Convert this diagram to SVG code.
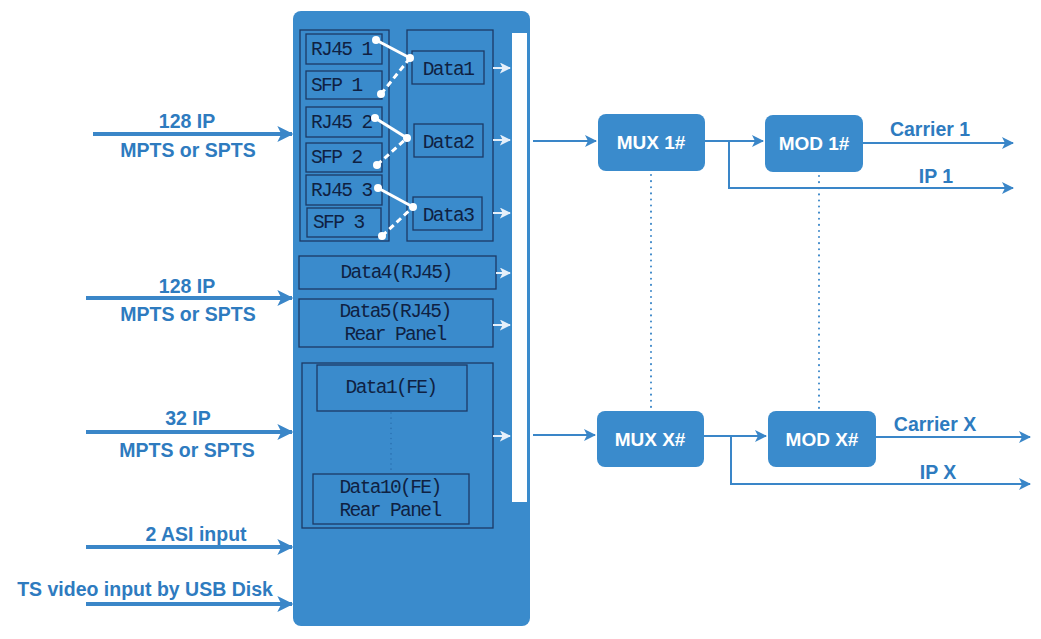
<svg xmlns="http://www.w3.org/2000/svg" width="1041" height="639" viewBox="0 0 1041 639">
<defs>
<marker id="ab" viewBox="0 0 12 12" refX="11" refY="6" markerWidth="12" markerHeight="12" markerUnits="userSpaceOnUse" orient="auto"><path d="M0,0 L12,6 L0,12 L3,6 Z" fill="#3a86c8"/></marker>
<marker id="abl" viewBox="0 0 12 12" refX="11" refY="6" markerWidth="16" markerHeight="16" markerUnits="userSpaceOnUse" orient="auto"><path d="M0,0 L12,6 L0,12 L3,6 Z" fill="#3a86c8"/></marker>
<marker id="aw" viewBox="0 0 12 12" refX="11" refY="6" markerWidth="11" markerHeight="11" markerUnits="userSpaceOnUse" orient="auto"><path d="M0,0 L12,6 L0,12 L3,6 Z" fill="#e6f0fa"/></marker>
</defs>
<style>
.panel{fill:#3a8bcc}
.ib{fill:none;stroke:#1c3a66;stroke-width:1.3}
.mt{font-family:"Liberation Mono","DejaVu Sans Mono",monospace;font-size:19.5px;letter-spacing:-1.6px;fill:#0f2142}
.lab{font-family:"Liberation Sans",Arial,sans-serif;font-weight:bold;font-size:19.5px;fill:#2e7bbf;text-anchor:middle}
.bl{font-family:"Liberation Sans",Arial,sans-serif;font-weight:bold;font-size:19px;fill:#ffffff;text-anchor:middle}
.blk{fill:#3a8bcc}
.in{stroke:#3a86c8;stroke-width:4;fill:none;marker-end:url(#abl)}
.out{stroke:#3a86c8;stroke-width:2;fill:none;marker-end:url(#ab)}
.wa{stroke:#e6f0fa;stroke-width:2;fill:none;marker-end:url(#aw)}
.dot{stroke:#3a86c8;stroke-width:2;stroke-dasharray:0.1 6;stroke-linecap:round;fill:none}
.sw{stroke:#ffffff;stroke-width:3;fill:none}
.swd{stroke:#ffffff;stroke-width:3;fill:none;stroke-dasharray:6 4}
</style>
<g id="panel">
<rect class="panel" x="293" y="11" width="237" height="615" rx="8"/>
<rect x="512" y="33" width="15" height="469" fill="#ffffff"/>
</g>
<g id="ports">
<rect class="ib" x="300" y="30" width="89" height="211"/>
<rect class="ib" x="306" y="34" width="76" height="30"/>
<text class="mt" x="311" y="55">RJ45 1</text>
<rect class="ib" x="306" y="71" width="76" height="28"/>
<text class="mt" x="311" y="91">SFP 1</text>
<rect class="ib" x="306" y="107" width="76" height="30"/>
<text class="mt" x="311" y="128">RJ45 2</text>
<rect class="ib" x="306" y="143" width="76" height="29"/>
<text class="mt" x="311" y="163">SFP 2</text>
<rect class="ib" x="306" y="175" width="76" height="30"/>
<text class="mt" x="311" y="196">RJ45 3</text>
<rect class="ib" x="307" y="208" width="74" height="29"/>
<text class="mt" x="313" y="228">SFP 3</text>
</g>
<g id="data13">
<rect class="ib" x="407" y="30" width="86" height="211"/>
<rect class="ib" x="412" y="51" width="72" height="33"/>
<text class="mt" x="448" y="75" text-anchor="middle">Data1</text>
<rect class="ib" x="414" y="124" width="69" height="33"/>
<text class="mt" x="448" y="148" text-anchor="middle">Data2</text>
<rect class="ib" x="413" y="197" width="69" height="33"/>
<text class="mt" x="448" y="221" text-anchor="middle">Data3</text>
</g>
<g id="switches">
<line class="sw" x1="376" y1="40" x2="410" y2="58"/>
<line class="swd" x1="381" y1="94" x2="410" y2="58"/>
<line class="sw" x1="375" y1="118" x2="407" y2="138"/>
<line class="swd" x1="377" y1="165" x2="407" y2="138"/>
<line class="sw" x1="378" y1="188" x2="413" y2="207"/>
<line class="swd" x1="382" y1="236" x2="413" y2="207"/>
<g fill="#ffffff">
<circle cx="376" cy="40" r="4"/><circle cx="410" cy="58" r="4"/><circle cx="381" cy="94" r="4"/>
<circle cx="375" cy="118" r="4"/><circle cx="407" cy="138" r="4"/><circle cx="377" cy="165" r="4"/>
<circle cx="378" cy="188" r="4"/><circle cx="413" cy="207" r="4"/><circle cx="382" cy="236" r="4"/>
</g>
</g>
<g id="data4">
<rect class="ib" x="299" y="256" width="197" height="33"/>
<text class="mt" x="396" y="278" text-anchor="middle">Data4(RJ45)</text>
</g>
<g id="data5">
<rect class="ib" x="299" y="299" width="194" height="48"/>
<text class="mt" x="395" y="317" text-anchor="middle">Data5(RJ45)</text>
<text class="mt" x="395" y="340" text-anchor="middle">Rear Panel</text>
</g>
<g id="fe">
<rect class="ib" x="302" y="363" width="191" height="165"/>
<rect class="ib" x="317" y="365" width="150" height="46"/>
<text class="mt" x="391" y="393" text-anchor="middle">Data1(FE)</text>
<rect class="ib" x="313" y="474" width="156" height="50"/>
<text class="mt" x="390" y="493" text-anchor="middle">Data10(FE)</text>
<text class="mt" x="390" y="516" text-anchor="middle">Rear Panel</text>
<line x1="391" y1="413" x2="391" y2="470" stroke="#2a6fb0" stroke-width="1.5" stroke-dasharray="0.1 5" stroke-linecap="round"/>
</g>
<g id="mux1"><rect class="blk" x="598" y="114" width="107" height="57" rx="8"/><text class="bl" x="651" y="149">MUX 1#</text></g>
<g id="mod1"><rect class="blk" x="765" y="115" width="98" height="57" rx="8"/><text class="bl" x="814" y="150">MOD 1#</text></g>
<g id="muxx"><rect class="blk" x="597" y="411" width="107" height="56" rx="8"/><text class="bl" x="650" y="446">MUX X#</text></g>
<g id="modx"><rect class="blk" x="768" y="411" width="108" height="56" rx="8"/><text class="bl" x="822" y="446">MOD X#</text></g>
<g id="labels">
<text class="lab" x="187" y="128">128 IP</text>
<text class="lab" x="188" y="157">MPTS or SPTS</text>
<text class="lab" x="187" y="293">128 IP</text>
<text class="lab" x="188" y="321">MPTS or SPTS</text>
<text class="lab" x="188" y="425">32 IP</text>
<text class="lab" x="187" y="457">MPTS or SPTS</text>
<text class="lab" x="196" y="541">2 ASI input</text>
<text class="lab" x="145" y="596">TS video input by USB Disk</text>
<text class="lab" x="930" y="136">Carrier 1</text>
<text class="lab" x="936" y="183">IP 1</text>
<text class="lab" x="935" y="431">Carrier X</text>
<text class="lab" x="938" y="479">IP X</text>
</g>
<g id="connectors">
<line class="in" x1="93" y1="134" x2="292" y2="134"/>
<line class="in" x1="86" y1="298" x2="292" y2="298"/>
<line class="in" x1="86" y1="432" x2="292" y2="432"/>
<line class="in" x1="86" y1="547" x2="292" y2="547"/>
<line class="in" x1="86" y1="604" x2="292" y2="604"/>
<line class="wa" x1="493" y1="68" x2="510" y2="68"/>
<line class="wa" x1="493" y1="140" x2="510" y2="140"/>
<line class="wa" x1="493" y1="213" x2="510" y2="213"/>
<line class="wa" x1="496" y1="273" x2="510" y2="273"/>
<line class="wa" x1="493" y1="325" x2="510" y2="325"/>
<line class="wa" x1="493" y1="436" x2="510" y2="436"/>
<line class="out" x1="533" y1="141" x2="596" y2="141"/>
<line class="out" x1="705" y1="141" x2="763" y2="141"/>
<polyline class="out" points="729,141 729,188 1013,188"/>
<line class="out" x1="863" y1="143" x2="1013" y2="143"/>
<line class="out" x1="533" y1="435" x2="595" y2="435"/>
<line class="out" x1="704" y1="436" x2="766" y2="436"/>
<polyline class="out" points="731,436 731,484 1030,484"/>
<line class="out" x1="876" y1="437" x2="1030" y2="437"/>
<line class="dot" x1="651" y1="175" x2="651" y2="409"/>
<line class="dot" x1="819" y1="176" x2="819" y2="408"/>
</g>
</svg>
